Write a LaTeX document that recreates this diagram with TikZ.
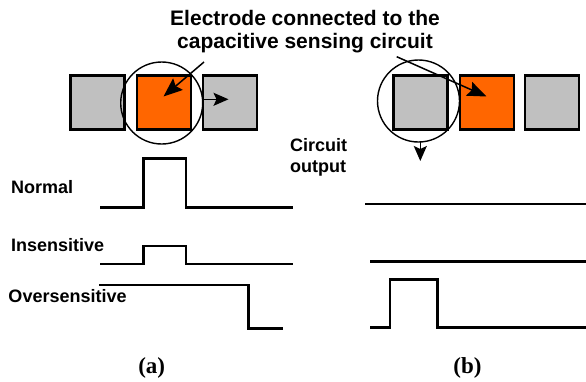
\documentclass[tikz,border=0pt]{standalone}
\usepackage{fontspec}
\setmainfont{Liberation Sans}
\newfontfamily\serifb{Liberation Serif}
\usetikzlibrary{arrows.meta}
\definecolor{elecorange}{HTML}{FF6600}
\definecolor{elecgray}{HTML}{C0C0C0}
\tikzset{
  sq/.style={rectangle,draw=black,line width=2.5pt,minimum size=54pt,inner sep=0pt,outer sep=0pt},
  graysq/.style={sq,fill=elecgray},
  orangesq/.style={sq,fill=elecorange},
  ring/.style={circle,draw=black,line width=1.4pt,minimum size=82pt,inner sep=0pt,outer sep=0pt},
  bigarrow/.style={line width=1.5pt,-{Stealth[length=19pt,width=15pt,inset=3pt]}},
  smallarrow/.style={line width=1.5pt,-{Stealth[length=15pt,width=13pt,inset=3pt]}},
  wave/.style={line width=2.8pt,line cap=butt},
  lbl/.style={font=\fontsize{18}{21}\selectfont\bfseries,inner sep=0pt,anchor=base west},
  ttl/.style={font=\fontsize{21}{23}\selectfont\bfseries,inner sep=0pt,anchor=base},
  captxt/.style={font=\fontsize{23}{25}\selectfont\serifb\bfseries,inner sep=0pt,anchor=base}
}
\begin{document}
\begin{tikzpicture}[x=1pt,y=-1pt]
\useasboundingbox (0,0) rectangle (586,381);
% title
\node[ttl] (t1) at (305,25) {Electrode connected to the};
\node[ttl] (t2) at (305,48) {capacitive sensing circuit};
% (a) electrodes
\node[graysq] (la) at (97.5,102.5) {};
\node[orangesq] (oa) at (164,102.5) {};
\node[graysq] (ra) at (230,102.5) {};
\node[ring] (ca) at (161.7,103) {};
\coordinate (pa) at (204,62);
\coordinate (tipa) at (163.5,96.5);
\draw[bigarrow] (pa) -- (tipa);
\coordinate (sa) at (203,99.3);
\coordinate (ea) at (228.5,99.3);
\draw[smallarrow] (sa) -- (ea);
% (b) electrodes
\node[graysq] (lb) at (420.3,102.5) {};
\node[orangesq] (ob) at (487,102.5) {};
\node[graysq] (rb) at (552,102.5) {};
\node[ring] (cb) at (418.5,101) {};
\coordinate (pb) at (396.7,56.7);
\coordinate (tipb) at (486.5,96.5);
\draw[bigarrow] (pb) -- (tipb);
\coordinate (db) at (420.3,161);
\draw[smallarrow] (cb.south -| db) -- (db);
% labels
\node[lbl] (normal) at (11,193) {Normal};
\node[lbl] (insens) at (11,251.7) {Insensitive};
\node[lbl] (overs) at (8.3,302.7) {Oversensitive};
\node[lbl] (circ) at (290,151.7) {Circuit};
\node[lbl] (outp) at (290,172.7) {output};
% waveforms (a)
\draw[wave] (100,207.3) -- (143.3,207.3) -- (143.3,158.3) -- (186,158.3) -- (186,207.3) -- (292.7,207.3);
\draw[wave] (100,264) -- (143.3,264) -- (143.3,246) -- (186,246) -- (186,264) -- (292.7,264);
\draw[wave] (99.3,285) -- (248.3,285) -- (248.3,328.3) -- (283.3,328.3);
% waveforms (b)
\draw[wave] (365,204) -- (586,204);
\draw[wave] (370,261.7) -- (586,261.7);
\draw[wave] (370,327.3) -- (390,327.3) -- (390,279.3) -- (437.3,279.3) -- (437.3,327.3) -- (586,327.3);
% captions
\node[captxt] (capa) at (151.7,373) {(a)};
\node[captxt] (capb) at (467.5,373) {(b)};
\end{tikzpicture}
\end{document}
